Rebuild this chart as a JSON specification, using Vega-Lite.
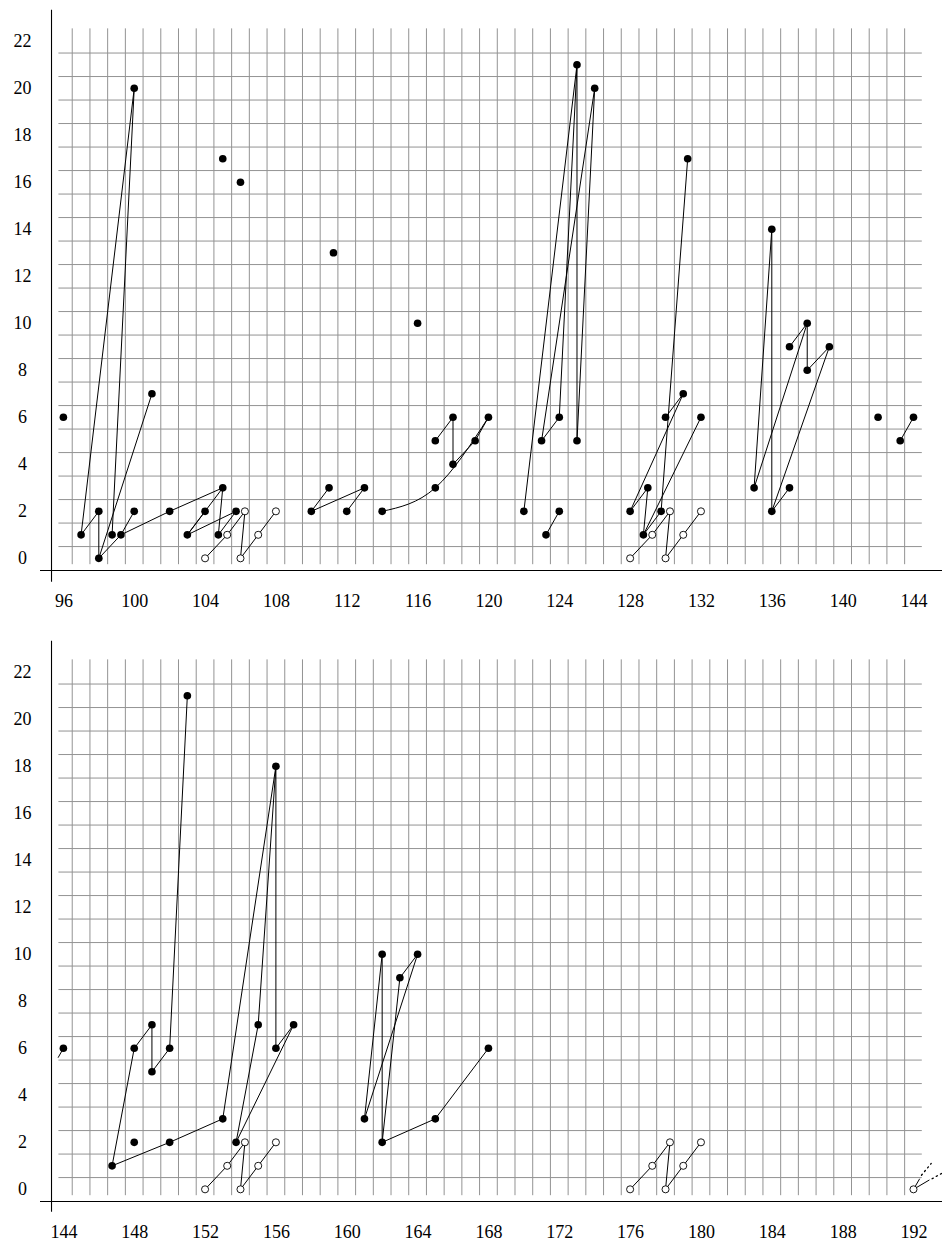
{
 "$schema": "https://vega.github.io/schema/vega-lite/v6.json",
 "padding": {"left": 13, "top": 9, "right": 0, "bottom": 0},
 "background": "white",
 "spacing": 57,
 "bounds": "flush",
 "config": {
  "view": {"stroke": null},
  "axis": {"grid": false, "domain": false, "ticks": false, "tickSize": 0, "labelFont": "Liberation Serif", "labelFontSize": 18, "labelColor": "#000000", "labelOverlap": false, "labelFlush": false},
  "axisX": {"labelPadding": 18, "labelBaseline": "middle"},
  "axisY": {"labelPadding": 18, "labelAlign": "center"}
 },
 "datasets": {
  "vg1": [{"x":96.5},{"x":97.5},{"x":98.5},{"x":99.5},{"x":100.5},{"x":101.5},{"x":102.5},{"x":103.5},{"x":104.5},{"x":105.5},{"x":106.5},{"x":107.5},{"x":108.5},{"x":109.5},{"x":110.5},{"x":111.5},{"x":112.5},{"x":113.5},{"x":114.5},{"x":115.5},{"x":116.5},{"x":117.5},{"x":118.5},{"x":119.5},{"x":120.5},{"x":121.5},{"x":122.5},{"x":123.5},{"x":124.5},{"x":125.5},{"x":126.5},{"x":127.5},{"x":128.5},{"x":129.5},{"x":130.5},{"x":131.5},{"x":132.5},{"x":133.5},{"x":134.5},{"x":135.5},{"x":136.5},{"x":137.5},{"x":138.5},{"x":139.5},{"x":140.5},{"x":141.5},{"x":142.5},{"x":143.5}],
  "vg2": [{"x":144.5},{"x":145.5},{"x":146.5},{"x":147.5},{"x":148.5},{"x":149.5},{"x":150.5},{"x":151.5},{"x":152.5},{"x":153.5},{"x":154.5},{"x":155.5},{"x":156.5},{"x":157.5},{"x":158.5},{"x":159.5},{"x":160.5},{"x":161.5},{"x":162.5},{"x":163.5},{"x":164.5},{"x":165.5},{"x":166.5},{"x":167.5},{"x":168.5},{"x":169.5},{"x":170.5},{"x":171.5},{"x":172.5},{"x":173.5},{"x":174.5},{"x":175.5},{"x":176.5},{"x":177.5},{"x":178.5},{"x":179.5},{"x":180.5},{"x":181.5},{"x":182.5},{"x":183.5},{"x":184.5},{"x":185.5},{"x":186.5},{"x":187.5},{"x":188.5},{"x":189.5},{"x":190.5},{"x":191.5}],
  "hg": [{"y":0.5},{"y":1.5},{"y":2.5},{"y":3.5},{"y":4.5},{"y":5.5},{"y":6.5},{"y":7.5},{"y":8.5},{"y":9.5},{"y":10.5},{"y":11.5},{"y":12.5},{"y":13.5},{"y":14.5},{"y":15.5},{"y":16.5},{"y":17.5},{"y":18.5},{"y":19.5},{"y":20.5},{"y":21.5}],
  "seg1": [
   {"x":97,"y":1,"x2":98,"y2":2},
   {"x":98,"y":2,"x2":98,"y2":0},
   {"x":98,"y":0,"x2":101,"y2":7},
   {"x":97,"y":1,"x2":100,"y2":20},
   {"x":100,"y":20,"x2":98.75,"y2":1},
   {"x":98,"y":0,"x2":99.25,"y2":1},
   {"x":99.25,"y":1,"x2":100,"y2":2},
   {"x":99.25,"y":1,"x2":102,"y2":2},
   {"x":102,"y":2,"x2":105,"y2":3},
   {"x":105,"y":3,"x2":103,"y2":1},
   {"x":103,"y":1,"x2":104,"y2":2},
   {"x":105,"y":3,"x2":104.75,"y2":1},
   {"x":103,"y":1,"x2":105.75,"y2":2},
   {"x":104.75,"y":1,"x2":105.75,"y2":2},
   {"x":104,"y":0,"x2":105.25,"y2":1},
   {"x":105.25,"y":1,"x2":106.25,"y2":2},
   {"x":106.25,"y":2,"x2":106,"y2":0},
   {"x":106,"y":0,"x2":107,"y2":1},
   {"x":107,"y":1,"x2":108,"y2":2},
   {"x":110,"y":2,"x2":111,"y2":3},
   {"x":110,"y":2,"x2":113,"y2":3},
   {"x":112,"y":2,"x2":113,"y2":3},
   {"x":117,"y":5,"x2":118,"y2":6},
   {"x":118,"y":6,"x2":118,"y2":4},
   {"x":118,"y":4,"x2":119.25,"y2":5},
   {"x":119.25,"y":5,"x2":120,"y2":6},
   {"x":122,"y":2,"x2":125,"y2":21},
   {"x":125,"y":21,"x2":125,"y2":5},
   {"x":125,"y":5,"x2":126,"y2":20},
   {"x":126,"y":20,"x2":123,"y2":5},
   {"x":123,"y":5,"x2":124,"y2":6},
   {"x":124,"y":6,"x2":125,"y2":21},
   {"x":123.25,"y":1,"x2":124,"y2":2},
   {"x":128,"y":2,"x2":129,"y2":3},
   {"x":129,"y":3,"x2":128.75,"y2":1},
   {"x":128,"y":2,"x2":131,"y2":7},
   {"x":131,"y":7,"x2":130,"y2":6},
   {"x":131.25,"y":17,"x2":129.75,"y2":2},
   {"x":128.75,"y":1,"x2":129.75,"y2":2},
   {"x":128.75,"y":1,"x2":132,"y2":6},
   {"x":128,"y":0,"x2":129.25,"y2":1},
   {"x":129.25,"y":1,"x2":130.25,"y2":2},
   {"x":130.25,"y":2,"x2":130,"y2":0},
   {"x":130,"y":0,"x2":131,"y2":1},
   {"x":131,"y":1,"x2":132,"y2":2},
   {"x":135,"y":3,"x2":136,"y2":14},
   {"x":136,"y":14,"x2":136,"y2":2},
   {"x":135,"y":3,"x2":138,"y2":10},
   {"x":137,"y":9,"x2":138,"y2":10},
   {"x":138,"y":10,"x2":138,"y2":8},
   {"x":138,"y":8,"x2":139.25,"y2":9},
   {"x":139.25,"y":9,"x2":136,"y2":2},
   {"x":136,"y":2,"x2":137,"y2":3},
   {"x":143.25,"y":5,"x2":144,"y2":6}
  ],
  "curve1": [{"x":114,"y":2,"o":1},{"x":117,"y":3,"o":2},{"x":120,"y":6,"o":3}],
  "pf1": [
   {"x":96,"y":6},{"x":97,"y":1},{"x":98,"y":2},{"x":98,"y":0},{"x":98.75,"y":1},{"x":99.25,"y":1},{"x":100,"y":2},{"x":100,"y":20},{"x":101,"y":7},{"x":102,"y":2},{"x":103,"y":1},{"x":104,"y":2},{"x":104.75,"y":1},{"x":105,"y":3},{"x":105.75,"y":2},{"x":105,"y":17},{"x":106,"y":16},
   {"x":110,"y":2},{"x":111,"y":3},{"x":111.25,"y":13},{"x":112,"y":2},{"x":113,"y":3},{"x":114,"y":2},{"x":116,"y":10},{"x":117,"y":3},{"x":117,"y":5},{"x":118,"y":6},{"x":118,"y":4},{"x":119.25,"y":5},{"x":120,"y":6},
   {"x":122,"y":2},{"x":123.25,"y":1},{"x":124,"y":2},{"x":123,"y":5},{"x":124,"y":6},{"x":125,"y":5},{"x":125,"y":21},{"x":126,"y":20},
   {"x":128,"y":2},{"x":129,"y":3},{"x":128.75,"y":1},{"x":129.75,"y":2},{"x":130,"y":6},{"x":131,"y":7},{"x":132,"y":6},{"x":131.25,"y":17},
   {"x":135,"y":3},{"x":136,"y":2},{"x":137,"y":3},{"x":136,"y":14},{"x":137,"y":9},{"x":138,"y":10},{"x":138,"y":8},{"x":139.25,"y":9},
   {"x":142,"y":6},{"x":143.25,"y":5},{"x":144,"y":6}
  ],
  "po1": [{"x":104,"y":0},{"x":105.25,"y":1},{"x":106.25,"y":2},{"x":106,"y":0},{"x":107,"y":1},{"x":108,"y":2},{"x":128,"y":0},{"x":129.25,"y":1},{"x":130.25,"y":2},{"x":130,"y":0},{"x":131,"y":1},{"x":132,"y":2}],
  "seg2": [
   {"x":143.7,"y":5.6,"x2":144,"y2":6},
   {"x":146.75,"y":1,"x2":148,"y2":6},
   {"x":148,"y":6,"x2":149,"y2":7},
   {"x":149,"y":7,"x2":149,"y2":5},
   {"x":149,"y":5,"x2":150,"y2":6},
   {"x":150,"y":6,"x2":151,"y2":21},
   {"x":146.75,"y":1,"x2":150,"y2":2},
   {"x":150,"y":2,"x2":153,"y2":3},
   {"x":153,"y":3,"x2":156,"y2":18},
   {"x":153.75,"y":2,"x2":155,"y2":7},
   {"x":155,"y":7,"x2":156,"y2":18},
   {"x":156,"y":18,"x2":156,"y2":6},
   {"x":156,"y":6,"x2":157,"y2":7},
   {"x":157,"y":7,"x2":153.75,"y2":2},
   {"x":152,"y":0,"x2":153.25,"y2":1},
   {"x":153.25,"y":1,"x2":154.25,"y2":2},
   {"x":154.25,"y":2,"x2":154,"y2":0},
   {"x":154,"y":0,"x2":155,"y2":1},
   {"x":155,"y":1,"x2":156,"y2":2},
   {"x":161,"y":3,"x2":162,"y2":10},
   {"x":162,"y":10,"x2":162,"y2":2},
   {"x":162,"y":2,"x2":163,"y2":9},
   {"x":163,"y":9,"x2":164,"y2":10},
   {"x":164,"y":10,"x2":161,"y2":3},
   {"x":162,"y":2,"x2":165,"y2":3},
   {"x":165,"y":3,"x2":168,"y2":6},
   {"x":176,"y":0,"x2":177.25,"y2":1},
   {"x":177.25,"y":1,"x2":178.25,"y2":2},
   {"x":178.25,"y":2,"x2":178,"y2":0},
   {"x":178,"y":0,"x2":179,"y2":1},
   {"x":179,"y":1,"x2":180,"y2":2},
   {"x":192,"y":0,"x2":192.35,"y2":0.45},
   {"x":192,"y":0,"x2":192.9,"y2":0.4}
  ],
  "dot2": [
   {"x":192.45,"y":0.6,"x2":193.0,"y2":1.1},
   {"x":193.05,"y":0.45,"x2":193.65,"y2":0.7}
  ],
  "pf2": [
   {"x":144,"y":6},{"x":146.75,"y":1},{"x":148,"y":6},{"x":149,"y":7},{"x":149,"y":5},{"x":150,"y":6},{"x":151,"y":21},{"x":148,"y":2},{"x":150,"y":2},{"x":153,"y":3},{"x":153.75,"y":2},{"x":155,"y":7},{"x":156,"y":6},{"x":156,"y":18},{"x":157,"y":7},
   {"x":161,"y":3},{"x":162,"y":2},{"x":162,"y":10},{"x":163,"y":9},{"x":164,"y":10},{"x":165,"y":3},{"x":168,"y":6}
  ],
  "po2": [{"x":152,"y":0},{"x":153.25,"y":1},{"x":154.25,"y":2},{"x":154,"y":0},{"x":155,"y":1},{"x":156,"y":2},{"x":176,"y":0},{"x":177.25,"y":1},{"x":178.25,"y":2},{"x":178,"y":0},{"x":179,"y":1},{"x":180,"y":2},{"x":192,"y":0}]
 },
 "vconcat": [
  {
   "width": 902, "height": 574,
   "layer": [
    {"data": {"name": "vg1"}, "mark": {"type": "rule", "color": "#939393", "strokeWidth": 1},
     "encoding": {
      "x": {"field": "x", "type": "quantitative", "title": null, "scale": {"domain": [94.68, 145.61], "nice": false, "zero": false}, "axis": {"values": [96,100,104,108,112,116,120,124,128,132,136,140,144], "labelFont": "Liberation Serif", "labelFontSize": 18, "labelPadding": 18, "labelBaseline": "middle", "labelColor": "#000000"}},
      "y": {"datum": -0.25, "type": "quantitative", "title": null, "scale": {"domain": [-1.05, 23.374], "nice": false, "zero": false}, "axis": {"values": [0,2,4,6,8,10,12,14,16,18,20,22], "labelFont": "Liberation Serif", "labelFontSize": 18, "labelPadding": 18, "labelAlign": "center", "labelColor": "#000000"}},
      "y2": {"datum": 22.55}}},
    {"data": {"name": "hg"}, "mark": {"type": "rule", "color": "#939393", "strokeWidth": 1},
     "encoding": {
      "y": {"field": "y", "type": "quantitative", "title": null},
      "x": {"datum": 95.72, "type": "quantitative", "title": null},
      "x2": {"datum": 144.47}}},
    {"data": {"values": [{}]}, "mark": {"type": "rule", "color": "black", "strokeWidth": 1.1},
     "encoding": {"x": {"datum": 94.68, "type": "quantitative", "title": null}, "x2": {"datum": 145.61}, "y": {"datum": -0.52, "type": "quantitative", "title": null}}},
    {"data": {"values": [{}]}, "mark": {"type": "rule", "color": "black", "strokeWidth": 1.1},
     "encoding": {"x": {"datum": 95.33, "type": "quantitative", "title": null}, "y": {"datum": -1.0, "type": "quantitative", "title": null}, "y2": {"datum": 23.34}}},
    {"data": {"name": "seg1"}, "mark": {"type": "rule", "color": "black", "strokeWidth": 1},
     "encoding": {"x": {"field": "x", "type": "quantitative", "title": null}, "y": {"field": "y", "type": "quantitative", "title": null}, "x2": {"field": "x2"}, "y2": {"field": "y2"}}},
    {"data": {"name": "curve1"}, "mark": {"type": "line", "interpolate": "monotone", "color": "black", "strokeWidth": 1},
     "encoding": {"x": {"field": "x", "type": "quantitative", "title": null}, "y": {"field": "y", "type": "quantitative", "title": null}, "order": {"field": "o"}}},
    {"data": {"name": "pf1"}, "mark": {"type": "circle", "fill": "black", "size": 58, "opacity": 1},
     "encoding": {"x": {"field": "x", "type": "quantitative", "title": null}, "y": {"field": "y", "type": "quantitative", "title": null}}},
    {"data": {"name": "po1"}, "mark": {"type": "circle", "fill": "white", "stroke": "black", "strokeWidth": 0.9, "size": 50, "opacity": 1},
     "encoding": {"x": {"field": "x", "type": "quantitative", "title": null}, "y": {"field": "y", "type": "quantitative", "title": null}}}
   ]
  },
  {
   "width": 902, "height": 574,
   "layer": [
    {"data": {"name": "vg2"}, "mark": {"type": "rule", "color": "#939393", "strokeWidth": 1},
     "encoding": {
      "x": {"field": "x", "type": "quantitative", "title": null, "scale": {"domain": [142.68, 193.61], "nice": false, "zero": false}, "axis": {"values": [144,148,152,156,160,164,168,172,176,180,184,188,192], "labelFont": "Liberation Serif", "labelFontSize": 18, "labelPadding": 18, "labelBaseline": "middle", "labelColor": "#000000"}},
      "y": {"datum": -0.25, "type": "quantitative", "title": null, "scale": {"domain": [-1.05, 23.374], "nice": false, "zero": false}, "axis": {"values": [0,2,4,6,8,10,12,14,16,18,20,22], "labelFont": "Liberation Serif", "labelFontSize": 18, "labelPadding": 18, "labelAlign": "center", "labelColor": "#000000"}},
      "y2": {"datum": 22.55}}},
    {"data": {"name": "hg"}, "mark": {"type": "rule", "color": "#939393", "strokeWidth": 1},
     "encoding": {
      "y": {"field": "y", "type": "quantitative", "title": null},
      "x": {"datum": 143.72, "type": "quantitative", "title": null},
      "x2": {"datum": 192.47}}},
    {"data": {"values": [{}]}, "mark": {"type": "rule", "color": "black", "strokeWidth": 1.1},
     "encoding": {"x": {"datum": 142.68, "type": "quantitative", "title": null}, "x2": {"datum": 193.61}, "y": {"datum": -0.52, "type": "quantitative", "title": null}}},
    {"data": {"values": [{}]}, "mark": {"type": "rule", "color": "black", "strokeWidth": 1.1},
     "encoding": {"x": {"datum": 143.33, "type": "quantitative", "title": null}, "y": {"datum": -0.95, "type": "quantitative", "title": null}, "y2": {"datum": 23.34}}},
    {"data": {"name": "seg2"}, "mark": {"type": "rule", "color": "black", "strokeWidth": 1},
     "encoding": {"x": {"field": "x", "type": "quantitative", "title": null}, "y": {"field": "y", "type": "quantitative", "title": null}, "x2": {"field": "x2"}, "y2": {"field": "y2"}}},
    {"data": {"name": "dot2"}, "mark": {"type": "rule", "color": "black", "strokeWidth": 1.3, "strokeDash": [1.3, 3.5], "strokeCap": "round"},
     "encoding": {"x": {"field": "x", "type": "quantitative", "title": null}, "y": {"field": "y", "type": "quantitative", "title": null}, "x2": {"field": "x2"}, "y2": {"field": "y2"}}},
    {"data": {"name": "pf2"}, "mark": {"type": "circle", "fill": "black", "size": 58, "opacity": 1},
     "encoding": {"x": {"field": "x", "type": "quantitative", "title": null}, "y": {"field": "y", "type": "quantitative", "title": null}}},
    {"data": {"name": "po2"}, "mark": {"type": "circle", "fill": "white", "stroke": "black", "strokeWidth": 0.9, "size": 50, "opacity": 1},
     "encoding": {"x": {"field": "x", "type": "quantitative", "title": null}, "y": {"field": "y", "type": "quantitative", "title": null}}}
   ]
  }
 ]
}
